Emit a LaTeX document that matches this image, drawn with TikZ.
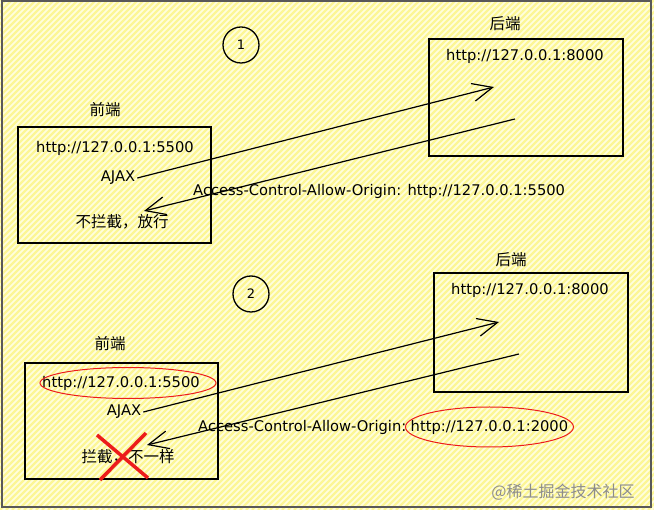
\documentclass[tikz,border=0pt]{standalone}
\usepackage{fontspec}
\setmainfont{DejaVu Sans}
\newfontfamily\cjk{Noto Sans CJK SC}
\usetikzlibrary{arrows.meta}
\definecolor{paper}{RGB}{255,254,222}
\definecolor{stripe}{RGB}{252,246,150}
\definecolor{mark}{RGB}{236,28,28}
\tikzset{
  box/.style={draw, line width=1.6pt, anchor=north west, inner sep=0pt},
  flow/.style={line width=1.2pt, -{Straight Barb[length=20pt,width=18pt,line width=1.2pt]}},
  lbl/.style={font=\cjk\fontsize{15.5}{16}\selectfont, inner sep=2pt},
  url/.style={font=\fontsize{14.7}{15}\selectfont, inner sep=2pt},
  num/.style={draw, circle, line width=1.3pt, minimum size=36pt, inner sep=0pt, font=\fontsize{13}{13}\selectfont},
  ring/.style={draw=mark, line width=1pt},
  cross/.style={draw=mark, line width=3.5pt}
}
\begin{document}
\begin{tikzpicture}[x=1pt,y=-1pt]
  % paper
  \useasboundingbox (0,0) rectangle (654,510);
  \fill[paper] (0,0) rectangle (654,510);
  \begin{scope}
    \clip (0,0) rectangle (654,510);
    \foreach \i in {0,6,...,1170}
      \draw[stripe, line width=2.4pt] (\i-510,510) -- (\i,0);
  \end{scope}
  \draw[black!65, line width=1.5pt] (2,1) rectangle (651,507);

  % case 1
  \node[num] (one) at (241,45) {1};
  \node[box, minimum width=194pt, minimum height=117pt] (back1) at (428,38) {};
  \node[lbl] (be1) at (505,24) {后端};
  \node[url] (bu1) at (525,56) {http://127.0.0.1:8000};
  \node[box, minimum width=193pt, minimum height=116pt] (front1) at (17,126) {};
  \node[lbl] (fe1) at (105,110) {前端};
  \node[url] (fu1) at (115,148) {http://127.0.0.1:5500};
  \node[url] (ajax1) at (118,178) {AJAX};
  \node[lbl] (pass1) at (122,222) {不拦截，放行};
  \node[url, anchor=west] (hdr1) at (191,191) {Access-Control-Allow-Origin: http://127.0.0.1:5500};
  \coordinate (req1) at (494,87);
  \coordinate (res1) at (515,119);
  \coordinate (got1) at (144,211);
  \draw[flow] (ajax1.east) -- (req1);
  \draw[flow] (res1) -- (got1);

  % case 2
  \node[num] (two) at (251,294) {2};
  \node[box, minimum width=194pt, minimum height=119pt] (back2) at (433,272) {};
  \node[lbl] (be2) at (511,260) {后端};
  \node[url] (bu2) at (530,290) {http://127.0.0.1:8000};
  \node[box, minimum width=193pt, minimum height=116pt] (front2) at (24,362) {};
  \node[lbl] (fe2) at (110,344) {前端};
  \node[url] (fu2) at (121,383) {http://127.0.0.1:5500};
  \node[url] (ajax2) at (124,412) {AJAX};
  \node[lbl] (block2) at (128,457) {拦截，不一样};
  \node[url, anchor=west] (hdr2) at (196,427) {Access-Control-Allow-Origin:};
  \node[url, anchor=base west] (org2) at (hdr2.base east) {http://127.0.0.1:2000};
  \coordinate (req2) at (499,322);
  \coordinate (res2) at (519,354);
  \coordinate (got2) at (147,445);
  \draw[flow] (ajax2.east) -- (req2);
  \draw[flow] (res2) -- (got2);

  % red marks
  \draw[ring] (128,383) ellipse (88pt and 15.5pt);
  \draw[ring] (org2.center) ellipse (84pt and 20pt);
  \draw[cross] (97,435) -- (148,478);
  \draw[cross] (146,433) -- (100,480);

  \node[lbl, text=black!45, font=\cjk\fontsize{16}{16}\selectfont] (wm) at (563,492) {@稀土掘金技术社区};
\end{tikzpicture}
\end{document}
